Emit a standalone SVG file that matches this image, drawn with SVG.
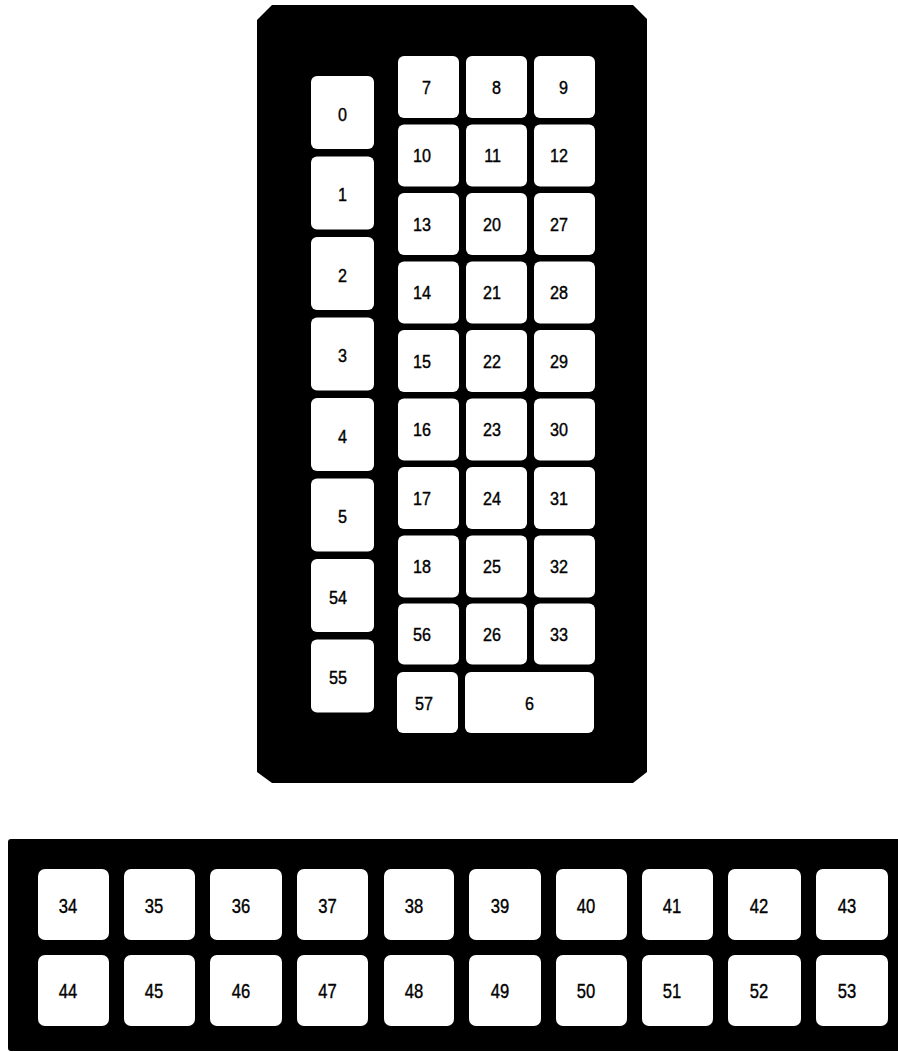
<svg xmlns="http://www.w3.org/2000/svg" width="898" height="1052" viewBox="0 0 898 1052">
<style>
.panel{fill:#000}
.k{fill:#fff}
.t{font-family:"Liberation Sans",Arial,sans-serif;font-size:19px;fill:#000;stroke:#000;stroke-width:0.4;text-anchor:end}
.tb{font-family:"Liberation Sans",Arial,sans-serif;font-size:21px;fill:#000;stroke:#000;stroke-width:0.4;text-anchor:middle}
</style>
<rect width="898" height="1052" fill="#fff"/>
<g id="top-panel">
<polygon class="panel" points="272,5 633,5 647,19 647,772 633,783 272,783 257,772 257,20"/>
</g>
<g id="key-0"><rect class="k" x="311" y="76" width="63" height="73" rx="6"/><text class="t" transform="translate(347,120.5) scale(0.85,1)">0</text></g>
<g id="key-1"><rect class="k" x="311" y="156.5" width="63" height="73" rx="6"/><text class="t" transform="translate(347,201) scale(0.85,1)">1</text></g>
<g id="key-2"><rect class="k" x="311" y="237" width="63" height="73" rx="6"/><text class="t" transform="translate(347,281.5) scale(0.85,1)">2</text></g>
<g id="key-3"><rect class="k" x="311" y="317.5" width="63" height="73" rx="6"/><text class="t" transform="translate(347,362) scale(0.85,1)">3</text></g>
<g id="key-4"><rect class="k" x="311" y="398" width="63" height="73" rx="6"/><text class="t" transform="translate(347,442.5) scale(0.85,1)">4</text></g>
<g id="key-5"><rect class="k" x="311" y="478.5" width="63" height="73" rx="6"/><text class="t" transform="translate(347,523) scale(0.85,1)">5</text></g>
<g id="key-54"><rect class="k" x="311" y="559" width="63" height="73" rx="6"/><text class="t" transform="translate(347,603.5) scale(0.85,1)">54</text></g>
<g id="key-55"><rect class="k" x="311" y="639.5" width="63" height="73" rx="6"/><text class="t" transform="translate(347,684) scale(0.85,1)">55</text></g>

<g id="key-7"><rect class="k" x="398" y="56" width="61" height="62" rx="6"/><text class="t" transform="translate(431,93.5) scale(0.85,1)">7</text></g>
<g id="key-8"><rect class="k" x="466" y="56" width="61" height="62" rx="6"/><text class="t" transform="translate(501,93.5) scale(0.85,1)">8</text></g>
<g id="key-9"><rect class="k" x="534" y="56" width="61" height="62" rx="6"/><text class="t" transform="translate(568,93.5) scale(0.85,1)">9</text></g>
<g id="key-10"><rect class="k" x="398" y="124.5" width="61" height="62" rx="6"/><text class="t" transform="translate(431,162) scale(0.85,1)">10</text></g>
<g id="key-11"><rect class="k" x="466" y="124.5" width="61" height="62" rx="6"/><text class="t" transform="translate(501,162) scale(0.85,1)">11</text></g>
<g id="key-12"><rect class="k" x="534" y="124.5" width="61" height="62" rx="6"/><text class="t" transform="translate(568,162) scale(0.85,1)">12</text></g>
<g id="key-13"><rect class="k" x="398" y="193" width="61" height="62" rx="6"/><text class="t" transform="translate(431,230.5) scale(0.85,1)">13</text></g>
<g id="key-20"><rect class="k" x="466" y="193" width="61" height="62" rx="6"/><text class="t" transform="translate(501,230.5) scale(0.85,1)">20</text></g>
<g id="key-27"><rect class="k" x="534" y="193" width="61" height="62" rx="6"/><text class="t" transform="translate(568,230.5) scale(0.85,1)">27</text></g>
<g id="key-14"><rect class="k" x="398" y="261.5" width="61" height="62" rx="6"/><text class="t" transform="translate(431,299) scale(0.85,1)">14</text></g>
<g id="key-21"><rect class="k" x="466" y="261.5" width="61" height="62" rx="6"/><text class="t" transform="translate(501,299) scale(0.85,1)">21</text></g>
<g id="key-28"><rect class="k" x="534" y="261.5" width="61" height="62" rx="6"/><text class="t" transform="translate(568,299) scale(0.85,1)">28</text></g>
<g id="key-15"><rect class="k" x="398" y="330" width="61" height="62" rx="6"/><text class="t" transform="translate(431,367.5) scale(0.85,1)">15</text></g>
<g id="key-22"><rect class="k" x="466" y="330" width="61" height="62" rx="6"/><text class="t" transform="translate(501,367.5) scale(0.85,1)">22</text></g>
<g id="key-29"><rect class="k" x="534" y="330" width="61" height="62" rx="6"/><text class="t" transform="translate(568,367.5) scale(0.85,1)">29</text></g>
<g id="key-16"><rect class="k" x="398" y="398.5" width="61" height="62" rx="6"/><text class="t" transform="translate(431,436) scale(0.85,1)">16</text></g>
<g id="key-23"><rect class="k" x="466" y="398.5" width="61" height="62" rx="6"/><text class="t" transform="translate(501,436) scale(0.85,1)">23</text></g>
<g id="key-30"><rect class="k" x="534" y="398.5" width="61" height="62" rx="6"/><text class="t" transform="translate(568,436) scale(0.85,1)">30</text></g>
<g id="key-17"><rect class="k" x="398" y="467" width="61" height="62" rx="6"/><text class="t" transform="translate(431,504.5) scale(0.85,1)">17</text></g>
<g id="key-24"><rect class="k" x="466" y="467" width="61" height="62" rx="6"/><text class="t" transform="translate(501,504.5) scale(0.85,1)">24</text></g>
<g id="key-31"><rect class="k" x="534" y="467" width="61" height="62" rx="6"/><text class="t" transform="translate(568,504.5) scale(0.85,1)">31</text></g>
<g id="key-18"><rect class="k" x="398" y="535.5" width="61" height="62" rx="6"/><text class="t" transform="translate(431,573) scale(0.85,1)">18</text></g>
<g id="key-25"><rect class="k" x="466" y="535.5" width="61" height="62" rx="6"/><text class="t" transform="translate(501,573) scale(0.85,1)">25</text></g>
<g id="key-32"><rect class="k" x="534" y="535.5" width="61" height="62" rx="6"/><text class="t" transform="translate(568,573) scale(0.85,1)">32</text></g>
<g id="key-56"><rect class="k" x="398" y="603.5" width="61" height="61" rx="6"/><text class="t" transform="translate(431,641) scale(0.85,1)">56</text></g>
<g id="key-26"><rect class="k" x="466" y="603.5" width="61" height="61" rx="6"/><text class="t" transform="translate(501,641) scale(0.85,1)">26</text></g>
<g id="key-33"><rect class="k" x="534" y="603.5" width="61" height="61" rx="6"/><text class="t" transform="translate(568,641) scale(0.85,1)">33</text></g>
<g id="key-57"><rect class="k" x="397" y="672" width="61" height="61" rx="6"/><text class="t" transform="translate(433,709.5) scale(0.85,1)">57</text></g>
<g id="key-6"><rect class="k" x="465" y="672" width="129" height="61" rx="6"/><text class="t" transform="translate(534,709.5) scale(0.85,1)">6</text></g>

<g id="bottom-panel">
<rect class="panel" x="8" y="839" width="900" height="212" rx="3"/>
</g>
<g id="key-34"><rect class="k" x="38" y="869" width="71" height="71" rx="7"/><text class="tb" transform="translate(68,912.5) scale(0.79,1)">34</text></g>
<g id="key-35"><rect class="k" x="124" y="869" width="71" height="71" rx="7"/><text class="tb" transform="translate(154,912.5) scale(0.79,1)">35</text></g>
<g id="key-36"><rect class="k" x="210" y="869" width="72" height="71" rx="7"/><text class="tb" transform="translate(241,912.5) scale(0.79,1)">36</text></g>
<g id="key-37"><rect class="k" x="297" y="869" width="71" height="71" rx="7"/><text class="tb" transform="translate(327.5,912.5) scale(0.79,1)">37</text></g>
<g id="key-38"><rect class="k" x="384" y="869" width="70" height="71" rx="7"/><text class="tb" transform="translate(414,912.5) scale(0.79,1)">38</text></g>
<g id="key-39"><rect class="k" x="469" y="869" width="72" height="71" rx="7"/><text class="tb" transform="translate(500,912.5) scale(0.79,1)">39</text></g>
<g id="key-40"><rect class="k" x="556" y="869" width="71" height="71" rx="7"/><text class="tb" transform="translate(586,912.5) scale(0.79,1)">40</text></g>
<g id="key-41"><rect class="k" x="642" y="869" width="71" height="71" rx="7"/><text class="tb" transform="translate(672,912.5) scale(0.79,1)">41</text></g>
<g id="key-42"><rect class="k" x="728" y="869" width="73" height="71" rx="7"/><text class="tb" transform="translate(759,912.5) scale(0.79,1)">42</text></g>
<g id="key-43"><rect class="k" x="816" y="869" width="72" height="71" rx="7"/><text class="tb" transform="translate(847,912.5) scale(0.79,1)">43</text></g>
<g id="key-44"><rect class="k" x="38" y="955" width="71" height="71" rx="7"/><text class="tb" transform="translate(68,997.5) scale(0.79,1)">44</text></g>
<g id="key-45"><rect class="k" x="124" y="955" width="71" height="71" rx="7"/><text class="tb" transform="translate(154,997.5) scale(0.79,1)">45</text></g>
<g id="key-46"><rect class="k" x="210" y="955" width="72" height="71" rx="7"/><text class="tb" transform="translate(241,997.5) scale(0.79,1)">46</text></g>
<g id="key-47"><rect class="k" x="297" y="955" width="71" height="71" rx="7"/><text class="tb" transform="translate(327.5,997.5) scale(0.79,1)">47</text></g>
<g id="key-48"><rect class="k" x="384" y="955" width="70" height="71" rx="7"/><text class="tb" transform="translate(414,997.5) scale(0.79,1)">48</text></g>
<g id="key-49"><rect class="k" x="469" y="955" width="72" height="71" rx="7"/><text class="tb" transform="translate(500,997.5) scale(0.79,1)">49</text></g>
<g id="key-50"><rect class="k" x="556" y="955" width="71" height="71" rx="7"/><text class="tb" transform="translate(586,997.5) scale(0.79,1)">50</text></g>
<g id="key-51"><rect class="k" x="642" y="955" width="71" height="71" rx="7"/><text class="tb" transform="translate(672,997.5) scale(0.79,1)">51</text></g>
<g id="key-52"><rect class="k" x="728" y="955" width="73" height="71" rx="7"/><text class="tb" transform="translate(759,997.5) scale(0.79,1)">52</text></g>
<g id="key-53"><rect class="k" x="816" y="955" width="72" height="71" rx="7"/><text class="tb" transform="translate(847,997.5) scale(0.79,1)">53</text></g>
<g id="connectors"/>
</svg>
